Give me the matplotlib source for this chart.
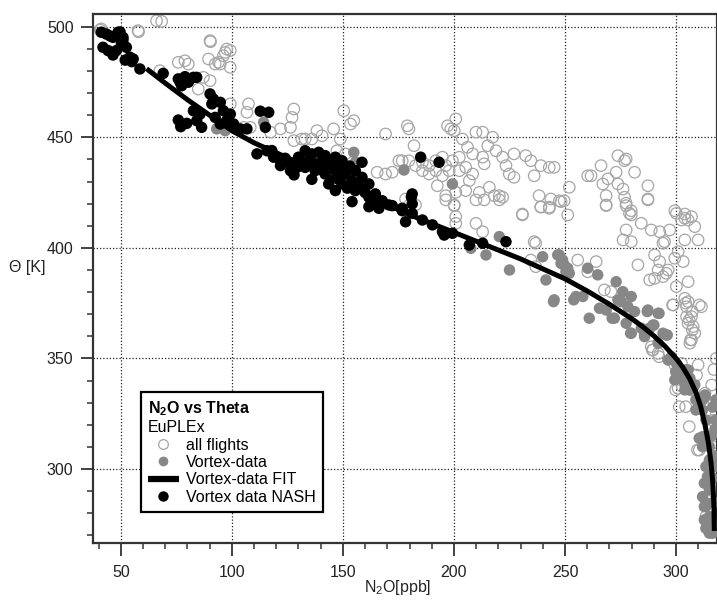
import matplotlib.pyplot as plt
from matplotlib.lines import Line2D
from matplotlib.ticker import MultipleLocator

plt.rcParams['font.family'] = ['Liberation Sans', 'DejaVu Sans']
plt.rcParams['mathtext.fontset'] = 'custom'
plt.rcParams['mathtext.rm'] = 'Liberation Sans'
plt.rcParams['mathtext.it'] = 'Liberation Sans:italic'
plt.rcParams['mathtext.bf'] = 'Liberation Sans:bold'

# all flights (open circles)
flights_n2o = [41.2, 40.7, 57.8, 58.0, 66.1, 68.4, 90.2, 90.4, 97.7, 97.0, 96.2, 99.3, 89.5, 92.5, 94.0, 94.8,
               99.3, 75.9, 78.9, 80.4, 67.6, 87.2, 90.2, 84.9, 99.3, 107.5, 106.8, 127.9, 127.1, 126.4, 121.9,
               117.4, 108.3, 105.3, 127.9,
               150.4, 154.9, 153.4, 145.8, 138.3, 140.6, 136.0, 133.0, 148.8, 147.3, 151.1, 148.8, 169.2, 179.0,
               179.7, 182.0, 175.2, 176.7, 179.7, 165.4, 169.2, 172.2, 182.7, 185.8, 188.8, 191.8, 194.8, 196.3,
               199.3, 202.4, 197.1, 198.6, 200.8, 200.1, 185.8, 188.8, 191.8, 194.8, 197.8, 202.4, 205.3, 208.4,
               206.9, 203.8, 206.1, 208.4, 209.9, 212.9, 215.2, 217.4, 218.9, 212.9, 213.6, 192.5, 196.3, 200.8,
               205.3, 211.4, 215.9, 218.2, 220.4, 221.9, 200.1, 178.2, 179.7, 221.9, 223.4, 224.9, 131.5,
               227.0, 232.3, 234.6, 239.1, 242.9, 245.1, 227.0, 236.1, 251.9, 238.3, 243.6, 247.4, 249.6, 242.9,
               239.1, 230.8, 260.2, 261.7, 266.2, 273.8, 276.8, 277.5, 281.3, 273.0, 269.3, 267.0, 273.8, 276.1,
               268.5, 268.5, 276.8, 277.5, 279.8, 287.3, 287.3, 299.4, 303.9,
               230.8, 239.1, 242.9, 248.2, 251.2, 268.5, 277.5, 279.0, 279.8, 287.3, 284.3, 288.8, 292.6, 297.1,
               277.5, 276.1, 279.8, 294.8, 294.1, 300.1, 302.4, 303.9, 305.4, 306.9, 308.4, 303.9, 309.9, 290.3,
               300.9, 299.4, 303.2, 292.6, 296.4, 291.9, 282.8, 255.7, 264.0, 260.2, 267.7, 270.7, 288.1, 290.3,
               294.1, 295.6, 300.1, 305.4, 303.9, 305.4, 304.7, 298.7, 311.4, 304.7, 306.9, 305.4, 307.7, 308.4,
               306.9, 306.2, 234.6, 236.8, 236.1, 236.8, 288.8, 289.6, 291.9, 299.4, 302.4, 309.9, 309.2, 300.9,
               306.9, 313.0,
               301.4, 305.9, 309.6, 315.0, 315.0, 313.4, 313.4, 315.6, 298.4, 304.3, 307.3, 305.9, 307.3, 306.5,
               310.4, 289.3, 292.3, 302.8, 299.8, 304.3, 310.4, 313.4,
               200.1, 200.8, 200.8, 209.9, 212.9, 196.3, 209.9, 213.6, 220.4, 182.7,
               316.0, 317.0, 318.0, 316.0, 318.0, 317.0, 318.0, 316.5, 317.5]
flights_theta = [499.0, 498.5, 498.2, 497.7, 502.7, 502.4, 493.7, 493.2, 489.9, 488.4, 486.9, 489.2, 485.4, 483.1,
                 483.9, 483.1, 481.6, 483.9, 484.6, 483.1, 480.1, 477.1, 475.6, 471.8, 465.1, 465.1, 461.3, 462.8,
                 459.0, 454.5, 453.8, 452.3, 454.5, 454.5, 448.5,
                 462.0, 457.5, 456.0, 453.8, 453.0, 450.7, 449.2, 449.2, 449.2, 443.9, 442.5, 439.4, 451.5, 455.2,
                 453.8, 446.2, 439.4, 439.4, 439.4, 434.2, 433.4, 434.2, 437.2, 438.7, 437.2, 439.4, 441.0, 437.2,
                 439.4, 441.0, 455.2, 453.8, 458.3, 453.0, 434.9, 433.4, 434.9, 432.6, 434.9, 434.9, 436.4, 433.4,
                 430.4, 449.2, 445.5, 442.5, 452.3, 452.3, 446.2, 450.0, 443.9, 441.0, 438.0, 428.1, 423.6, 425.1,
                 425.9, 425.1, 427.4, 423.6, 423.6, 422.9, 419.1, 422.1, 419.1, 441.0, 437.2, 433.4, 449.2,
                 442.5, 441.7, 439.4, 437.2, 436.4, 436.4, 431.9, 432.6, 427.4, 423.6, 422.1, 421.3, 421.3, 418.4,
                 418.4, 415.3, 432.6, 432.6, 437.2, 441.7, 439.4, 440.2, 434.2, 434.2, 431.2, 428.9, 428.9, 426.6,
                 423.6, 419.1, 422.9, 419.1, 416.8, 428.1, 422.1, 416.8, 415.3,
                 414.9, 418.6, 417.9, 420.9, 414.9, 419.4, 420.2, 415.6, 414.9, 421.7, 411.1, 408.1, 407.3, 408.1,
                 408.1, 403.6, 402.8, 402.8, 402.1, 415.6, 412.6, 413.4, 412.6, 414.1, 409.6, 403.6, 403.6, 396.8,
                 398.3, 395.3, 393.8, 393.8, 390.0, 390.0, 392.3, 394.5, 393.8, 389.2, 381.0, 380.2, 385.5, 386.2,
                 387.0, 388.5, 382.5, 384.7, 377.2, 375.7, 373.4, 374.2, 373.4, 368.9, 368.9, 365.9, 364.4, 361.4,
                 358.4, 356.9, 394.5, 391.5, 402.8, 402.1, 355.3, 353.8, 352.3, 347.1, 347.8, 347.1, 342.5, 336.5,
                 335.8, 334.3,
                 328.2, 319.2, 308.6, 302.6, 295.1, 287.5, 278.5, 282.3, 374.2, 375.0, 371.2, 367.4, 362.9, 358.4,
                 374.2, 353.8, 350.8, 337.3, 335.8, 328.2, 308.6, 286.0,
                 419.4, 414.1, 411.1, 411.1, 407.3, 421.7, 421.7, 421.7, 421.7, 419.4,
                 338.0, 330.0, 325.0, 318.0, 312.0, 345.0, 350.0, 322.0, 315.0]

# vortex data (grey dots)
vortex_n2o = [93.2, 97.0, 101.5, 114.3, 154.9, 155.6, 177.5, 199.3, 207.6, 214.4, 220.4, 225.0, 239.9, 246.7,
              248.2, 250.4, 241.4, 245.1, 254.9, 258.0, 260.2, 264.7, 260.9, 265.5, 268.5, 272.2, 273.0, 276.0,
              279.8, 275.3, 287.3, 291.9, 289.6, 277.5, 279.8, 285.8, 295.6, 291.9, 296.4, 300.9, 305.4, 299.4,
              303.9, 308.4, 313.0, 305.9, 311.9, 308.9, 313.4, 310.4, 315.0, 315.0, 314.1, 315.0, 314.1, 315.0,
              313.4, 316.4, 317.9, 317.9, 318.0, 244.8, 253.9, 271.2, 279.5, 287.0, 292.3, 290.0, 296.0, 299.8,
              304.3, 305.9, 308.9, 311.9, 311.9, 315.0, 313.4, 315.0, 247.4, 248.9, 249.6, 251.2, 251.9, 273.8,
              278.3, 281.3, 284.3, 288.1, 285.8, 294.1, 297.9, 300.1, 301.6, 303.9, 306.2, 307.7, 309.9, 313.0,
              311.9, 313.4, 312.7, 311.9, 312.7, 312.7, 315.6, 315.0, 317.2, 316.5, 317.5, 316.0, 317.0, 316.5,
              317.0]
vortex_theta = [453.8, 453.0, 453.8, 456.8, 443.2, 438.7, 435.2, 428.9, 399.8, 396.8, 405.1, 390.0, 396.0, 396.8,
                393.0, 389.2, 385.5, 376.5, 378.0, 378.0, 390.8, 387.8, 368.2, 372.7, 371.9, 368.2, 384.7, 380.2,
                378.0, 375.7, 371.9, 370.4, 365.1, 365.9, 361.4, 360.6, 360.6, 356.9, 349.3, 345.6, 344.8, 340.3,
                335.8, 338.1, 333.5, 335.8, 331.3, 326.7, 322.2, 313.9, 310.1, 304.1, 296.6, 290.6, 284.5, 278.5,
                273.2, 271.0, 331.3, 322.2, 301.1, 375.7, 376.5, 368.2, 361.4, 371.2, 370.4, 365.1, 360.6, 344.0,
                344.8, 337.3, 331.3, 326.7, 314.6, 292.1, 283.1, 272.5, 396.8, 394.5, 392.3, 390.8, 388.5, 376.5,
                373.4, 371.2, 363.7, 363.7, 359.9, 361.4, 350.8, 347.8, 342.5, 338.8, 341.0, 336.5, 332.0, 332.7,
                310.1, 301.1, 293.6, 287.5, 283.0, 277.0, 277.0, 271.0, 274.0, 328.0, 318.0, 315.0, 306.0, 296.0,
                285.0]

# vortex-data fit
fit_n2o = [61.6, 70, 80, 90, 100, 110, 120, 130, 140, 150, 160, 170, 180, 190, 200, 210, 220, 230, 240, 250,
           260, 270, 280, 285, 290, 295, 300, 303, 306, 309, 311, 313, 314.5, 315.7, 316.5, 317.0, 317.2]
fit_theta = [481.0, 474.5, 467.0, 460.0, 453.0, 447.5, 443.0, 438.5, 434.0, 429.5, 424.5, 419.5, 415.0, 411.0,
             407.0, 403.0, 399.0, 395.0, 390.5, 386.0, 380.5, 374.5, 368.0, 364.3, 360.2, 355.5, 350.0, 346.0,
             341.0, 334.5, 328.5, 320.0, 312.0, 303.0, 294.0, 284.0, 272.0]

# vortex data NASH (black dots)
nash_n2o = [41.2, 43.5, 46.5, 48.8, 51.0, 50.3, 42.0, 44.3, 48.0, 52.5, 54.1, 55.6, 58.6, 69.1, 46.5, 52.0, 55.0,
            45.2, 49.7, 51.0, 75.9, 78.9, 82.7, 84.2, 77.4, 80.4, 76.7, 90.2, 91.7, 94.8, 91.0, 96.2, 99.3, 97.7,
            100.8, 92.5, 94.8, 82.7, 85.7, 84.2, 86.4, 103.8, 106.8, 75.9, 79.7, 77.0, 112.8, 116.6, 115.1, 111.3,
            115.8, 118.8, 121.9, 126.4, 129.4, 126.4, 121.9, 130.9, 133.0, 136.0, 139.1, 142.0, 146.6, 149.6,
            158.6, 133.0, 137.5, 142.0, 146.6, 151.1, 154.1, 143.6, 146.6, 155.6, 161.7, 161.7, 167.7, 172.2,
            176.7, 181.2, 181.2, 185.0, 193.3, 134.5, 140.5, 145.1, 155.6, 158.6, 149.6, 164.6, 154.1, 161.7,
            166.2, 170.7, 176.7, 178.2, 181.2, 185.8, 190.3, 194.8, 195.6, 199.3, 206.9, 212.9, 223.4, 180.8,
            135.0, 138.0, 141.0, 144.0, 147.0, 150.0, 153.0, 130.0, 128.0, 136.0, 148.0, 152.0, 157.0, 160.0,
            163.0, 124.0, 118.0]
nash_theta = [497.5, 496.7, 495.2, 497.5, 495.2, 492.2, 490.7, 489.2, 489.2, 490.7, 486.2, 485.4, 480.9, 478.9,
              487.2, 484.9, 484.2, 495.8, 497.6, 494.0, 476.4, 477.4, 477.1, 477.1, 473.3, 474.9, 474.9, 469.6,
              467.3, 465.8, 465.1, 462.0, 460.5, 457.5, 456.0, 459.0, 456.0, 462.0, 460.5, 457.5, 454.5, 453.8,
              453.8, 457.8, 456.3, 454.8, 461.8, 461.3, 454.5, 442.5, 443.9, 441.0, 439.4, 437.9, 436.4, 434.9,
              437.2, 439.4, 443.9, 442.5, 443.2, 441.7, 441.0, 439.4, 438.7, 436.4, 434.9, 433.4, 434.9, 433.4,
              430.4, 428.9, 425.9, 425.9, 428.9, 422.9, 421.3, 419.1, 416.8, 424.4, 419.9, 441.0, 438.7, 439.4,
              438.7, 437.2, 434.9, 431.9, 428.9, 424.4, 420.9, 418.6, 417.9, 419.4, 417.9, 411.8, 415.6, 412.6,
              410.4, 407.3, 405.8, 406.6, 401.3, 402.1, 402.8, 423.0,
              440.0, 438.0, 436.0, 439.0, 437.0, 436.0, 437.0, 441.0, 433.0, 431.0, 431.0, 427.0, 428.0, 425.0,
              420.0, 440.5, 444.0]

fig = plt.figure(figsize=(7.17, 6.04), dpi=100)
ax = fig.add_axes([0.1297, 0.1015, 0.8703, 0.8748])

ax.scatter(flights_n2o, flights_theta, s=68, facecolors='none', edgecolors='#a6a6a6', linewidths=0.9, zorder=2)
ax.scatter(vortex_n2o, vortex_theta, s=68, color='#878787', edgecolors='none', zorder=3)
ax.plot(fit_n2o, fit_theta, color='black', linewidth=3.6, solid_capstyle='butt', zorder=4)
ax.scatter(nash_n2o, nash_theta, s=68, color='black', edgecolors='none', zorder=5)

ax.set_xlim(37.5, 318.4)
ax.set_ylim(266.7, 505.6)
ax.xaxis.set_major_locator(MultipleLocator(50))
ax.xaxis.set_minor_locator(MultipleLocator(10))
ax.yaxis.set_major_locator(MultipleLocator(50))
ax.yaxis.set_minor_locator(MultipleLocator(10))
ax.grid(True, which='major', color='#222222', linestyle=(0, (1, 1.6)), linewidth=0.9)
ax.set_axisbelow(True)

for sp in ax.spines.values():
    sp.set_color('#333333')
    sp.set_linewidth(1.6)
ax.tick_params(which='major', direction='out', length=9, width=1.3, color='#333333',
               labelsize=11.5, labelcolor='#222222', pad=5)
ax.tick_params(which='minor', direction='out', length=4.5, width=1.1, color='#333333')
ax.tick_params(axis='x', which='major', pad=7)

ax.set_xlabel('N$_2$O[ppb]', fontsize=11.5, color='#222222')
ax.xaxis.set_label_coords(0.489, -0.066)
ax.set_ylabel('Θ [K]', fontsize=11.5, color='#222222', rotation=0, ha='center', va='center')
ax.yaxis.set_label_coords(-0.105, 0.52)

handles = [
    Line2D([], [], marker='o', linestyle='none', markersize=7, markerfacecolor='white',
           markeredgecolor='#a6a6a6', markeredgewidth=0.9),
    Line2D([], [], marker='o', linestyle='none', markersize=7, markerfacecolor='#878787',
           markeredgecolor='none'),
    Line2D([], [], color='black', linewidth=4.5, solid_capstyle='butt'),
    Line2D([], [], marker='o', linestyle='none', markersize=7.5, markerfacecolor='black',
           markeredgecolor='none'),
]
labels = ['all flights', 'Vortex-data', 'Vortex-data FIT', 'Vortex data NASH']
leg = ax.legend(handles, labels, loc='lower left', bbox_to_anchor=(0.077, 0.058), borderaxespad=0,
                title=r'$\mathbf{N_2O\ vs\ Theta}$' + '\nEuPLEx', title_fontsize=11.5, fontsize=11.5,
                alignment='left', fancybox=False, framealpha=1, edgecolor='black',
                handlelength=1.9, handletextpad=0.45, labelspacing=0.15, borderpad=0.45)
leg.get_frame().set_linewidth(1.6)
leg.set_zorder(10)

fig.savefig('out.png', dpi=100)
